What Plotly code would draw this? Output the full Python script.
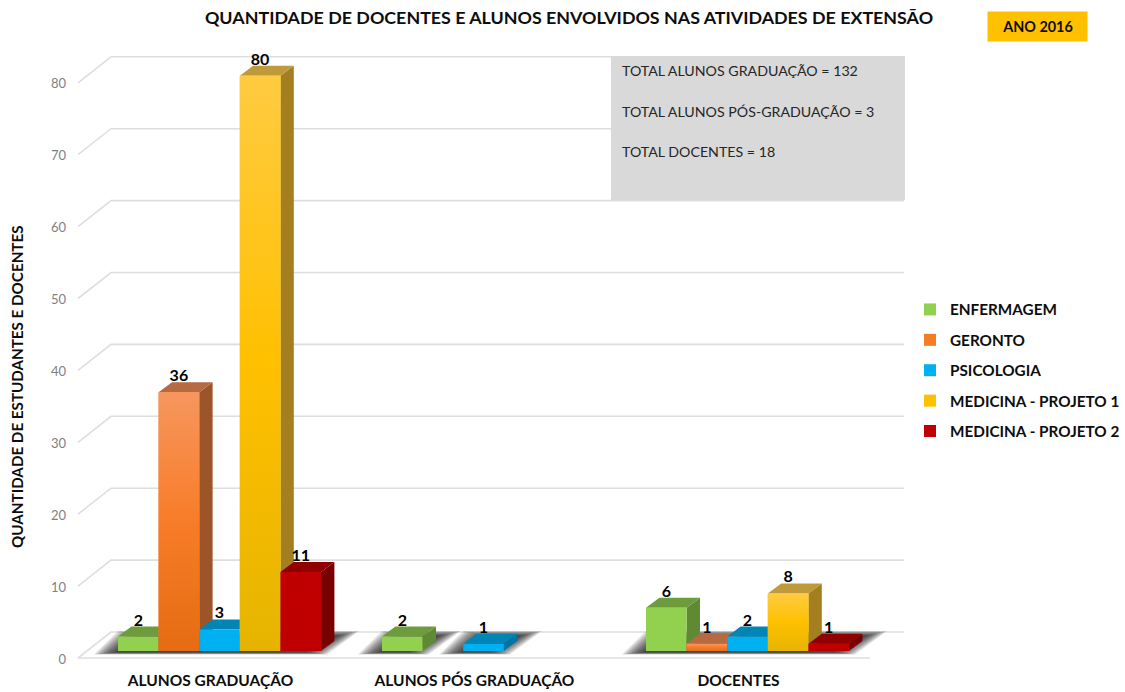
import plotly.graph_objects as go

categories = ["ALUNOS GRADUAÇÃO", "ALUNOS PÓS GRADUAÇÃO", "DOCENTES"]
series_names = ["ENFERMAGEM", "GERONTO", "PSICOLOGIA", "MEDICINA - PROJETO 1", "MEDICINA - PROJETO 2"]
enfermagem = [2, 2, 6]
geronto = [36, None, 1]
psicologia = [3, 1, 2]
medicina1 = [80, None, 8]
medicina2 = [11, None, 1]
y_ticks = [0, 10, 20, 30, 40, 50, 60, 70, 80]
box_lines = ["TOTAL ALUNOS GRADUAÇÃO = 132", "TOTAL ALUNOS PÓS-GRADUAÇÃO = 3", "TOTAL DOCENTES = 18"]
series_values = [enfermagem, geronto, psicologia, medicina1, medicina2]

front = ["#92D050", "#F57C26", "#00B0F0", "#FFC000", "#C00000"]
top_face = ["#6E9C3C", "#B56A42", "#0085B5", "#BF9A3A", "#900000"]
side_face = ["#5F8A33", "#9C5429", "#0075A3", "#A37F20", "#780000"]
grad_front = {1: ["#F6965E", "#F87C28", "#E56C12"], 3: ["#FFCB42", "#FFC000", "#E6B400"]}

W, H = 1125, 692
L, R, T, B = 70, 910, 45, 669
X0, PERIOD, Y0, SCALE = 219.5, 264.0, 651.0, 7.19
FONT = "Lato"
INK = "#0D0D0D"


def ux(px):
    return px / PERIOD


def uy(px):
    return px / SCALE


def paper_x(px):
    return (px - L) / (R - L)


def paper_y(px):
    return (B - px) / (B - T)


bar_w = ux(40.6)
dx, dy = ux(13.4), uy(10)
fig = go.Figure()

# Grid of the 3D box: side wall diagonal plus back wall line
gx, gy = [], []
for v in y_ticks:
    gx += [ux(78 - X0), ux(111 - X0), ux(904 - X0), None]
    gy += [v - uy(7), v + uy(19), v + uy(19), None]
gx += [ux(78 - X0), ux(870 - X0)]
gy += [-uy(7), -uy(7)]
fig.add_trace(go.Scatter(x=gx, y=gy, mode="lines", line=dict(color="#DEDEDE", width=1.6),
                         hoverinfo="skip", showlegend=False, zorder=1))

# Floor shadows, one soft patch per run of adjacent bars
for c in range(len(categories)):
    present = [s for s in range(5) if series_values[s][c] is not None]
    runs = []
    for s in present:
        if runs and runs[-1][1] == s - 1:
            runs[-1][1] = s
        else:
            runs.append([s, s])
    for a, b in runs:
        x0 = c + (a - 2.5) * bar_w
        x1 = c + (b - 1.5) * bar_w
        for k in range(12):
            ins = k * 2.0
            bot, topv = -uy(3.5) + uy(k * 0.2), uy(20) - uy(k * 0.45)
            xs = [x0 + ux(-24 + ins), x1 + ux(6 - ins), x1 + ux(38 - ins), x0 + ux(0 + ins), x0 + ux(-24 + ins)]
            ys = [bot, bot, topv, topv, bot]
            fig.add_trace(go.Scatter(x=xs, y=ys, mode="lines", fill="toself", fillcolor="rgba(30,30,30,0.13)",
                                     line=dict(width=0), hoverinfo="skip", showlegend=False, zorder=2))

# Bars: side and top faces are derived from each value, painted left to right
for s, name in enumerate(series_names):
    vals = series_values[s]
    tx, ty, sx, sy = [], [], [], []
    for c, v in enumerate(vals):
        if v is None:
            continue
        xl = c + (s - 2.5) * bar_w
        xr = xl + bar_w
        tx += [xl, xr, xr + dx, xl + dx, xl, None]
        ty += [v, v, v + dy, v + dy, v, None]
        sx += [xr, xr + dx, xr + dx, xr, xr, None]
        sy += [0, dy, v + dy, v, 0, None]
    fig.add_trace(go.Scatter(x=sx, y=sy, mode="lines", fill="toself", fillcolor=side_face[s], line=dict(width=0),
                             hoverinfo="skip", showlegend=False, zorder=10 + 2 * s))
    fig.add_trace(go.Scatter(x=tx, y=ty, mode="lines", fill="toself", fillcolor=top_face[s], line=dict(width=0),
                             hoverinfo="skip", showlegend=False, zorder=10 + 2 * s))
    fig.add_trace(go.Bar(x=list(range(len(categories))), y=vals, name=name, legendgroup=name,
                         marker=dict(color=front[s], line=dict(width=0)), zorder=11 + 2 * s))
    if s in grad_front:
        cols = grad_front[s]
        for c, v in enumerate(vals):
            if v is None:
                continue
            xl = c + (s - 2.5) * bar_w
            xr = xl + bar_w
            fig.add_trace(go.Scatter(
                x=[xl, xr, xr, xl, xl], y=[0, 0, v, v, 0], mode="lines", fill="toself", line=dict(width=0),
                fillgradient=dict(type="vertical", start=v, stop=0,
                                  colorscale=[[0, cols[0]], [0.5, cols[1]], [1, cols[2]]]),
                hoverinfo="skip", showlegend=False, zorder=11 + 2 * s))

# Value labels, above the back edge of each bar
lx, ly, lt = [], [], []
for s in range(5):
    for c, v in enumerate(series_values[s]):
        if v is not None:
            lx.append(c + (s - 2) * bar_w)
            ly.append(v + dy - uy(3))
            lt.append(str(v))
fig.add_trace(go.Scatter(x=lx, y=ly, mode="text", text=lt, textposition="top center",
                         textfont=dict(family=FONT, size=16, color="#000000", weight="bold"),
                         hoverinfo="skip", showlegend=False, zorder=40))

annotations = [
    dict(text="QUANTIDADE DE ESTUDANTES E DOCENTES", xref="paper", yref="paper", x=paper_x(17), y=paper_y(387),
         xanchor="center", yanchor="middle", textangle=-90, showarrow=False,
         font=dict(family=FONT, size=15.2, color=INK, weight="bold")),
    dict(text="ANO 2016", xref="paper", yref="paper", x=paper_x(1037.5), y=paper_y(26.5), xanchor="center",
         yanchor="middle", showarrow=False, bgcolor="#FFC000", width=97, height=27,
         font=dict(family=FONT, size=14.4, color=INK, weight="bold")),
]
for line, py in zip(box_lines, [71, 111.5, 152]):
    annotations.append(dict(text=line, xref="paper", yref="paper", x=paper_x(620), y=paper_y(py), xanchor="left",
                            yanchor="middle", showarrow=False, font=dict(family=FONT, size=14.2, color="#262626")))

fig.update_layout(
    width=W, height=H, margin=dict(l=L, r=W - R, t=T, b=H - B, autoexpand=False),
    paper_bgcolor="#FFFFFF", plot_bgcolor="rgba(0,0,0,0)",
    barmode="group", bargap=1 - 5 * bar_w, bargroupgap=0,
    title=dict(text="QUANTIDADE DE DOCENTES E ALUNOS ENVOLVIDOS NAS ATIVIDADES DE EXTENSÃO", x=569 / W, y=1 - 18 / H,
               xanchor="center", yanchor="middle", font=dict(family=FONT, size=17.85, color=INK, weight="bold")),
    xaxis=dict(range=[ux(L - X0), ux(R - X0)], tickmode="array", tickvals=list(range(len(categories))),
               ticktext=categories, showgrid=False, zeroline=False, showline=False, ticks="", ticklabelshift=-9,
               tickfont=dict(family=FONT, size=15.5, color=INK, weight="bold")),
    yaxis=dict(range=[(Y0 - B) / SCALE, (Y0 - T) / SCALE], tickmode="array", tickvals=y_ticks, showgrid=False,
               zeroline=False, showline=False, ticks="", ticklabelshift=8, ticklabelstandoff=3,
               tickfont=dict(family=FONT, size=13, color="#7F7F7F")),
    legend=dict(x=paper_x(910), y=paper_y(293), xanchor="left", yanchor="top", tracegroupgap=7.5,
                traceorder="grouped", font=dict(family=FONT, size=15.3, color=INK, weight="bold"),
                bgcolor="rgba(0,0,0,0)"),
    annotations=annotations,
    shapes=[dict(type="rect", xref="paper", yref="paper", x0=paper_x(611), x1=paper_x(905), y0=paper_y(200),
                 y1=paper_y(56), fillcolor="#D9D9D9", line=dict(width=0), layer="above")],
)
fig.write_html("out.html", post_script="document.body.style.margin='0';", config={"displayModeBar": False})
